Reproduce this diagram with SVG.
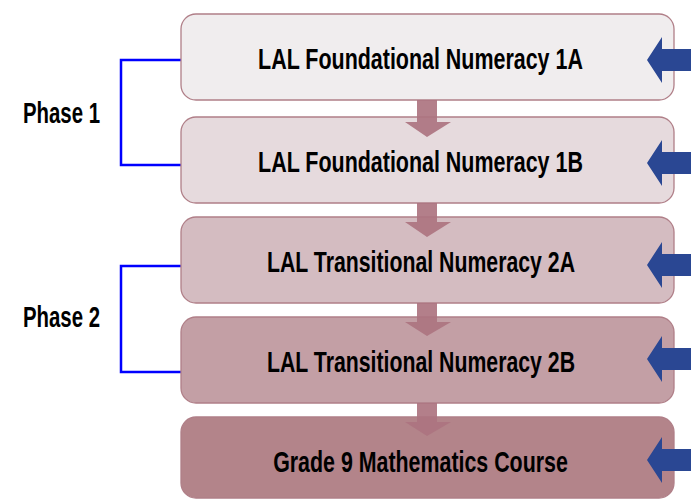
<svg xmlns="http://www.w3.org/2000/svg" width="691" height="499" viewBox="0 0 691 499">
<style>
.box{stroke:#b07f88;stroke-width:1.3}
.lbl{font-family:"Liberation Sans",Arial,sans-serif;font-weight:bold;font-size:29px;fill:#000;text-anchor:middle}
.ph{font-family:"Liberation Sans",Arial,sans-serif;font-weight:bold;font-size:29px;fill:#000}
.br{fill:none;stroke:#0000ff;stroke-width:2.5}
.down{fill:#ad7480;opacity:0.92}
.right{fill:#2a4793}
</style>
<rect width="691" height="499" fill="#ffffff"/>
<g id="connectors">
<path class="br" d="M181,60 H121 V165 H181"/>
<path class="br" d="M181,266 H121 V372 H181"/>
</g>
<g id="node1">
<rect class="box" x="181" y="14" width="493" height="86" rx="15" fill="#f0edee"/>
<text class="lbl" transform="translate(420.5,69) scale(0.7,1)" x="0" y="0" textLength="464" lengthAdjust="spacingAndGlyphs">LAL Foundational Numeracy 1A</text>
</g>
<g id="node2">
<rect class="box" x="181" y="117" width="493" height="86" rx="15" fill="#e6dadd"/>
<text class="lbl" transform="translate(420.5,172) scale(0.7,1)" x="0" y="0" textLength="464" lengthAdjust="spacingAndGlyphs">LAL Foundational Numeracy 1B</text>
</g>
<g id="node3">
<rect class="box" x="181" y="217" width="493" height="86" rx="15" fill="#d4bcc1"/>
<text class="lbl" transform="translate(421,272) scale(0.7,1)" x="0" y="0" textLength="440" lengthAdjust="spacingAndGlyphs">LAL Transitional Numeracy 2A</text>
</g>
<g id="node4">
<rect class="box" x="181" y="317" width="493" height="86" rx="15" fill="#c39fa5"/>
<text class="lbl" transform="translate(421,372) scale(0.7,1)" x="0" y="0" textLength="440" lengthAdjust="spacingAndGlyphs">LAL Transitional Numeracy 2B</text>
</g>
<g id="node5">
<rect class="box" x="181" y="417" width="493" height="81" rx="15" fill="#b3848a"/>
<text class="lbl" transform="translate(420.5,472) scale(0.7,1)" x="0" y="0" textLength="421" lengthAdjust="spacingAndGlyphs">Grade 9 Mathematics Course</text>
</g>
<g id="phase1"><text class="ph" transform="translate(23,123) scale(0.7,1)" x="0" y="0" textLength="110" lengthAdjust="spacingAndGlyphs">Phase 1</text></g>
<g id="phase2"><text class="ph" transform="translate(23,327) scale(0.7,1)" x="0" y="0" textLength="110" lengthAdjust="spacingAndGlyphs">Phase 2</text></g>
<g id="arrows">
<path class="down" d="M417,100 H437 V122 H451 L427,137 L405,122 H417 Z"/>
<path class="down" d="M417,203 H437 V222 H451 L427,237 L405,222 H417 Z"/>
<path class="down" d="M417,303 H437 V322 H451 L427,336 L405,322 H417 Z"/>
<path class="down" d="M417,403 H437 V422 H451 L427,436 L405,422 H417 Z"/>
<path class="right" d="M691,49 H662 V37 L647,60 L662,83 V71 H691 Z"/>
<path class="right" d="M691,152 H662 V140 L647,163 L662,186 V174 H691 Z"/>
<path class="right" d="M691,254 H662 V242 L647,265 L662,288 V276 H691 Z"/>
<path class="right" d="M691,348 H662 V336 L647,359 L662,382 V370 H691 Z"/>
<path class="right" d="M691,449 H662 V437 L647,460 L662,483 V471 H691 Z"/>
</g>
</svg>
